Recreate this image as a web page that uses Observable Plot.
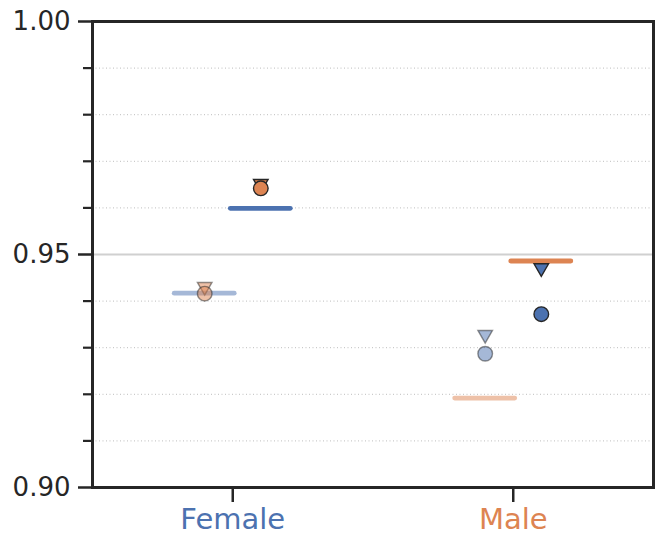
<!DOCTYPE html>
<html><head><meta charset="utf-8">
<script src="https://cdn.jsdelivr.net/npm/d3@7"></script>
<script src="https://cdn.jsdelivr.net/npm/@observablehq/plot@0.6"></script>
<style>body{margin:0;background:#fff} #chart svg{display:block}</style>
</head><body><div id="chart"></div>
<script>
const categories = ["Female", "Male"];
const categoryColors = ["#4c72b0", "#dd8452"];
const barLeft = [0.9417, 0.9192];
const barRight = [0.9599, 0.9486];
const circleLeft = [0.9416, 0.9287];
const circleRight = [0.9642, 0.9372];
const triangleLeft = [0.9431, 0.9328];
const triangleRight = [0.9652, 0.9471];
const yDomain = [0.90, 1.00];
const yMajorTicks = [0.90, 0.95, 1.00];
const yMinorTicks = [0.91, 0.92, 0.93, 0.94, 0.96, 0.97, 0.98, 0.99];
const yHighlight = [0.95];

const offset = 0.1, half = 0.107;
const rows = [];
categories.forEach((c, i) => {
  rows.push({cat: c, i, light: true, x: i - offset, bar: barLeft[i], circle: circleLeft[i], tri: triangleLeft[i]});
  rows.push({cat: c, i, light: false, x: i + offset, bar: barRight[i], circle: circleRight[i], tri: triangleRight[i]});
});
const barColor = d => categoryColors[d.i];
const markColor = d => categoryColors[1 - d.i];
const ink = "#262626";

function barMark(light) {
  return Plot.ruleY(rows.filter(d => d.light === light), {
    y: "bar", x1: d => d.x - half, x2: d => d.x + half,
    stroke: barColor, strokeOpacity: light ? 0.5 : 1, strokeWidth: 4.8, strokeLinecap: "round"
  });
}
function triMark(light) {
  return Plot.dot(rows.filter(d => d.light === light), {
    x: "x", y: "tri", symbol: "triangle", rotate: 180, r: 5.4,
    fill: markColor, fillOpacity: light ? 0.5 : 1,
    stroke: ink, strokeOpacity: light ? 0.5 : 1, strokeWidth: 1.4
  });
}
function circMark(light) {
  return Plot.dot(rows.filter(d => d.light === light), {
    x: "x", y: "circle", symbol: "circle", r: 7.3,
    fill: markColor, fillOpacity: light ? 0.5 : 1,
    stroke: ink, strokeOpacity: light ? 0.5 : 1, strokeWidth: 1.4
  });
}

const chart = Plot.plot({
  width: 665, height: 548,
  marginLeft: 92, marginRight: 12, marginTop: 21, marginBottom: 61,
  style: {fontFamily: "DejaVu Sans", background: "#fff"},
  x: {type: "linear", domain: [-0.5, 1.5], label: null},
  y: {domain: yDomain, label: null},
  marks: [
    Plot.ruleY(yMinorTicks, {stroke: "#bdbdbd", strokeWidth: 1, strokeDasharray: "1,2.5"}),
    Plot.ruleY(yHighlight, {stroke: "#d0d0d0", strokeWidth: 2}),
    barMark(true), barMark(false),
    triMark(true), circMark(true),
    triMark(false), circMark(false),
    Plot.axisY({ticks: yMinorTicks, tickSize: 9, tickFormat: () => "", color: ink, strokeWidth: 2.2, label: null}),
    Plot.axisY({ticks: yMajorTicks, tickSize: 14, tickPadding: 8, tickFormat: ".2f", fontSize: 26, color: ink, strokeWidth: 2.5, label: null}),
    Plot.axisX({ticks: [0, 1], tickSize: 15, tickFormat: () => "", color: ink, strokeWidth: 2.5, label: null}),
    Plot.text(categories, {x: (d, i) => i, frameAnchor: "bottom", lineAnchor: "top", dy: 21, fontSize: 29, fill: (d, i) => categoryColors[i]}),
    Plot.frame({stroke: ink, strokeWidth: 3})
  ]
});
document.getElementById("chart").appendChild(chart);
</script>
</body></html>
